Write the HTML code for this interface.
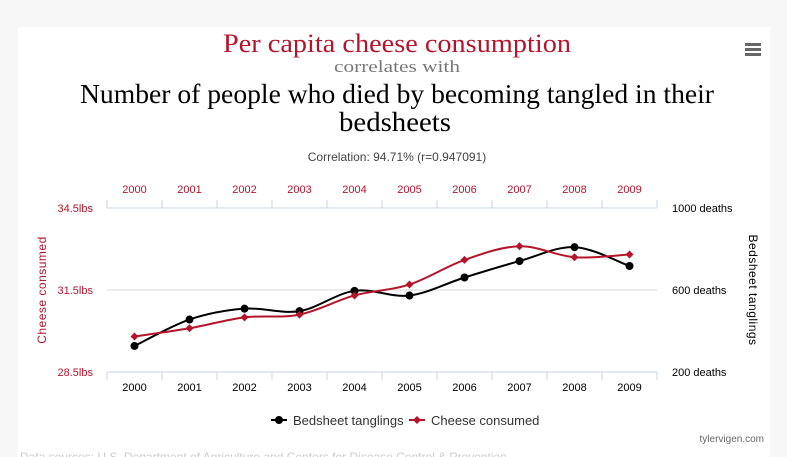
<!DOCTYPE html>
<html><head><meta charset="utf-8"><style>
html,body{margin:0;padding:0;background:#f7f7f7;}
svg{display:block;font-family:"Liberation Sans",sans-serif;}
</style></head><body>
<svg id="c" width="787" height="457" viewBox="0 0 787 457">
<rect x="18" y="27" width="752" height="440" fill="#fff"/>
<text x="397" y="52" text-anchor="middle" font-family="Liberation Serif,serif" font-size="26" fill="#b5152b" textLength="348" lengthAdjust="spacingAndGlyphs">Per capita cheese consumption</text>
<text x="397" y="72" text-anchor="middle" font-family="Liberation Serif,serif" font-size="17" fill="#777" textLength="126" lengthAdjust="spacingAndGlyphs">correlates with</text>
<text x="397" y="103" text-anchor="middle" font-family="Liberation Serif,serif" font-size="27" fill="#000" textLength="634" lengthAdjust="spacingAndGlyphs">Number of people who died by becoming tangled in their</text>
<text x="395" y="131" text-anchor="middle" font-family="Liberation Serif,serif" font-size="27" fill="#000" textLength="112" lengthAdjust="spacingAndGlyphs">bedsheets</text>
<text x="397" y="161" text-anchor="middle" font-size="12" fill="#444">Correlation: 94.71% (r=0.947091)</text>
<g><rect x="745" y="43" width="16" height="3" fill="#666"/><rect x="745" y="48" width="16" height="3" fill="#666"/><rect x="745" y="53" width="16" height="3" fill="#666"/></g>
<g id="plot"></g>
<g>
<g><line x1="271" y1="420" x2="287" y2="420" stroke="#000" stroke-width="2"/><circle cx="279" cy="420" r="4" fill="#000"/><text x="293" y="425" font-size="13" fill="#333">Bedsheet tanglings</text></g>
<g><line x1="409" y1="420" x2="425" y2="420" stroke="#b5152b" stroke-width="2"/><path d="M417 416L421 420L417 424L413 420Z" fill="#b5152b"/><text x="431" y="425" font-size="13" fill="#333">Cheese consumed</text></g>
</g>
<text x="764" y="442" text-anchor="end" font-size="10" fill="#666">tylervigen.com</text>
<text x="20" y="461" font-size="12" fill="#ccc">Data sources: U.S. Department of Agriculture and Centers for Disease Control &amp; Prevention</text>
</svg>
<script>
const years=['2000','2001','2002','2003','2004','2005','2006','2007','2008','2009'];
const cheese=[29.8,30.1,30.5,30.6,31.3,31.7,32.6,33.1,32.7,32.8];
const deaths=[327,456,509,497,596,573,661,741,809,717];
const leftTicks=[28.5,31.5,34.5];
const rightTicks=[200,600,1000];
const NS='http://www.w3.org/2000/svg';
const g=document.getElementById('plot');
const X0=107,X1=657,YT=208,YB=372;
const bw=(X1-X0)/years.length;
const xs=i=>X0+bw*(i+0.5);
const yL=v=>YB-(v-28.5)/(34.5-28.5)*(YB-YT);
const yR=v=>YB-(v-200)/(1000-200)*(YB-YT);
function el(t,a,txt){const e=document.createElementNS(NS,t);for(const k in a)e.setAttribute(k,a[k]);if(txt!=null)e.textContent=txt;g.appendChild(e);return e;}
// grid
leftTicks.forEach((v,i)=>{
 const gl=el('line',{x1:X0,x2:X1,y1:yL(v),y2:yL(v),stroke:i==1?'#d8d8d8':'#c8d6e6','stroke-width':1});
 
 
 const t=el('text',{x:93,y:yL(v)+4,'text-anchor':'end','font-size':11,fill:'#b5152b'},v+'lbs');
 
 
});
rightTicks.forEach(v=>{
 const t=el('text',{x:672,y:yR(v)+4,'font-size':11,fill:'#000'},v+' deaths');
 
 
});
// category ticks
for(let i=0;i<=years.length;i++){
 const x=X0+bw*i;
 const a=el('line',{x1:x,x2:x,y1:YT,y2:YT-8,stroke:'#c8d6e6'});
 
 
 const b=el('line',{x1:x,x2:x,y1:YB,y2:YB+8,stroke:'#c8d6e6'});
 
 
}
years.forEach((y,i)=>{
 const t=el('text',{x:xs(i),y:193,'text-anchor':'middle','font-size':11,fill:'#b5152b'},y);
 
 
 const b=el('text',{x:xs(i),y:391,'text-anchor':'middle','font-size':11,fill:'#000'},y);
 
 
});
const lt=el('text',{x:0,y:0,transform:'translate(46,290) rotate(-90)','text-anchor':'middle','font-size':12,fill:'#b5152b','letter-spacing':'0.5'},'Cheese consumed');


const rt=el('text',{x:0,y:0,transform:'translate(749,290) rotate(90)','text-anchor':'middle','font-size':12,fill:'#000','letter-spacing':'0.5'},'Bedsheet tanglings');


function spline(pts){
 let d='M'+pts[0][0]+' '+pts[0][1];
 for(let i=0;i<pts.length-1;i++){
  const p0=pts[i-1]||pts[i],p1=pts[i],p2=pts[i+1],p3=pts[i+2]||p2;
  const c1=[p1[0]+(p2[0]-p0[0])/6,p1[1]+(p2[1]-p0[1])/6];
  const c2=[p2[0]-(p3[0]-p1[0])/6,p2[1]-(p3[1]-p1[1])/6];
  d+=`C${c1[0]} ${c1[1]} ${c2[0]} ${c2[1]} ${p2[0]} ${p2[1]}`;
 }
 return d;
}
const dp=deaths.map((v,i)=>[xs(i),yR(v)]);
const cp=cheese.map((v,i)=>[xs(i),yL(v)]);
const l1=el('path',{d:spline(dp),fill:'none',stroke:'#000','stroke-width':2});


const l2=el('path',{d:spline(cp),fill:'none',stroke:'#b5152b','stroke-width':2});


dp.forEach(p=>{const c=el('circle',{cx:p[0],cy:p[1],r:4,fill:'#000'});
 
 });
cp.forEach(p=>{const c=el('path',{d:`M${p[0]} ${p[1]-4}L${p[0]+4} ${p[1]}L${p[0]} ${p[1]+4}L${p[0]-4} ${p[1]}Z`,fill:'#b5152b'});
 
 });
</script>
</body></html>
